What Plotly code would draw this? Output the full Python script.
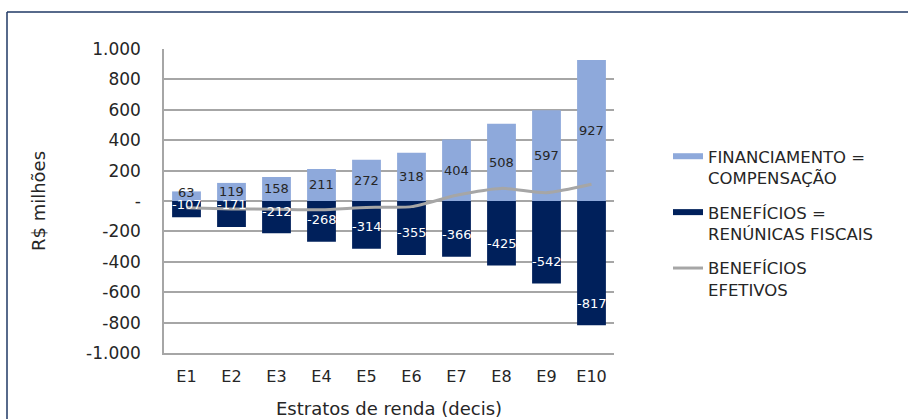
import plotly.graph_objects as go

categories = ["E1", "E2", "E3", "E4", "E5", "E6", "E7", "E8", "E9", "E10"]
financiamento = [63, 119, 158, 211, 272, 318, 404, 508, 597, 927]
beneficios = [-107, -171, -212, -268, -314, -355, -366, -425, -542, -817]
efetivos = [-44, -52, -54, -57, -42, -37, 38, 83, 55, 110]
ytick_vals = [1000, 800, 600, 400, 200, 0, -200, -400, -600, -800, -1000]
ytick_text = ["1.000", "800", "600", "400", "200", "-", "-200", "-400", "-600", "-800", "-1.000"]
legend_names = ["FINANCIAMENTO =<br>COMPENSAÇÃO", "BENEFÍCIOS =<br>RENÚNICAS FISCAIS", "BENEFÍCIOS<br>EFETIVOS"]

LIGHT = "#8EA9DB"
NAVY = "#00205B"
GRAY = "#A6A6A6"
FONT = "DejaVu Sans"
TXT = "#262626"

W, H = 908, 419
ML, MR, MT, MB = 164, 294, 49, 66
PH = H - MT - MB
YR = [-1000, 1000]
px_per_unit = PH / (YR[1] - YR[0])

fig = go.Figure()
fig.add_trace(go.Bar(
    x=categories, y=financiamento, marker=dict(color=LIGHT, line=dict(width=0)),
    showlegend=False, hoverinfo="skip"))
fig.add_trace(go.Bar(
    x=categories, y=beneficios, marker=dict(color=NAVY, line=dict(width=0)),
    showlegend=False, hoverinfo="skip"))
fig.add_trace(go.Scatter(
    x=categories, y=efetivos, mode="lines", line=dict(color=GRAY, width=3, shape="spline", smoothing=0.6),
    showlegend=False, hoverinfo="skip"))

# legend entries (line-style symbols like the reference)
for name, col in zip(legend_names, [LIGHT, NAVY, GRAY]):
    fig.add_trace(go.Scatter(x=[None], y=[None], mode="lines", name=name,
                             line=dict(color=col, width=6 if col != GRAY else 3),
                             legendgroup=name))

# positive labels: centred in the bar (nudged up a little when the bar is tiny)
for c, v in zip(categories, financiamento):
    half_px = v * px_per_unit / 2
    fig.add_annotation(x=c, y=v / 2, text=str(v), showarrow=False, yanchor="middle",
                       yshift=max(0, 8 - half_px),
                       font=dict(family=FONT, size=13, color=TXT))

# negative labels: near the inner end of bar
for c, v in zip(categories, beneficios):
    length_px = abs(v) * px_per_unit
    off = min(22, length_px - 3.5)
    fig.add_annotation(x=c, y=v, text=str(v), showarrow=False, yshift=off, yanchor="middle",
                       font=dict(family=FONT, size=13, color="white"))

def px_to_paper_x(px):
    return (px - ML) / (W - ML - MR)

def px_to_paper_y(py):
    return (H - MB - py) / PH

NAVYB = "#1F3864"
fig.add_shape(type="line", xref="paper", yref="paper",
              x0=px_to_paper_x(7), x1=px_to_paper_x(910), y0=px_to_paper_y(12), y1=px_to_paper_y(12),
              line=dict(color=NAVYB, width=1.5))
fig.add_shape(type="line", xref="paper", yref="paper",
              x0=px_to_paper_x(7), x1=px_to_paper_x(7), y0=px_to_paper_y(12), y1=px_to_paper_y(421),
              line=dict(color=NAVYB, width=1.5))

fig.update_layout(
    width=W, height=H, margin=dict(l=ML, r=MR, t=MT, b=MB),
    paper_bgcolor="white", plot_bgcolor="white",
    barmode="relative", bargap=0.36,
    font=dict(family=FONT, size=16, color=TXT),
    legend=dict(x=px_to_paper_x(668), xanchor="left", y=px_to_paper_y(139), yanchor="top",
                valign="top", font=dict(family=FONT, size=16.5, color=TXT),
                traceorder="grouped", tracegroupgap=10, bgcolor="rgba(0,0,0,0)"),
    xaxis=dict(showline=True, linecolor=GRAY, linewidth=1.5, ticks="", showgrid=False,
               ticklabelstandoff=8, automargin=False,
               tickfont=dict(family=FONT, size=16, color=TXT),
               title=dict(text="Estratos de renda (decis)", font=dict(family=FONT, size=18, color=TXT), standoff=18)),
    yaxis=dict(range=YR, tickvals=ytick_vals, ticktext=ytick_text, showgrid=True,
               gridcolor=GRAY, gridwidth=1.5, zeroline=True, zerolinecolor=GRAY, zerolinewidth=1.5,
               showline=True, linecolor=GRAY, linewidth=1.5, ticks="", ticklabelstandoff=18,
               automargin=False,
               tickfont=dict(family=FONT, size=17, color=TXT),
               title=dict(text="R$ milhões", font=dict(family=FONT, size=18, color=TXT), standoff=36)),
)

fig.write_html("out.html")
